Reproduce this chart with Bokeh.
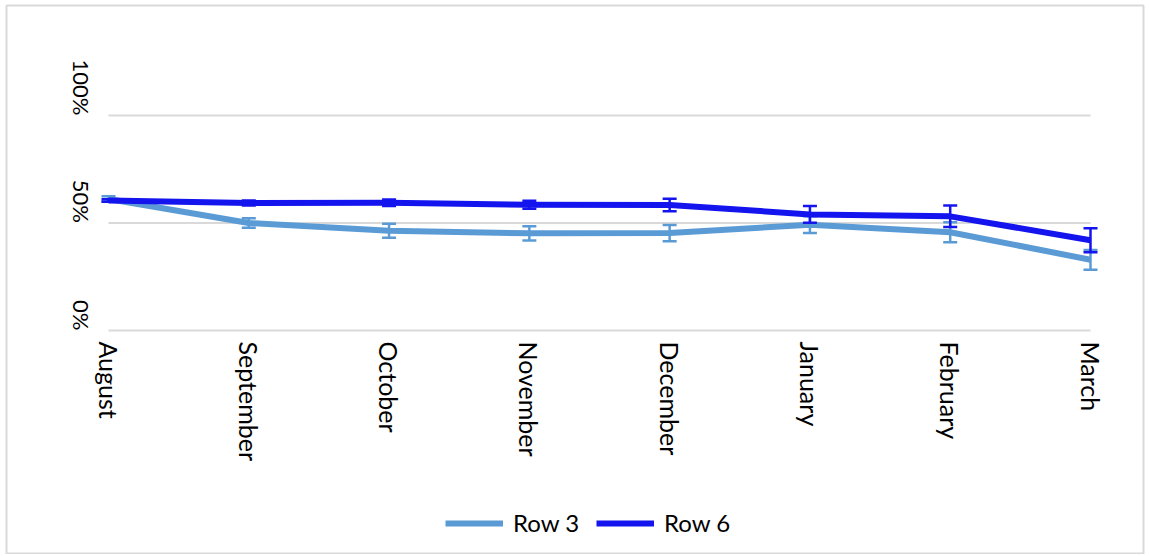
import math
from bokeh.plotting import figure
from bokeh.models import ColumnDataSource, Range1d, Label, Legend, LegendItem, FixedTicker
from bokeh.embed import file_html
from bokeh.resources import INLINE

months = ["August", "September", "October", "November", "December", "January", "February", "March"]
row3 = [0.612, 0.500, 0.464, 0.452, 0.453, 0.492, 0.457, 0.329]
row3_err = [0.012, 0.022, 0.033, 0.033, 0.038, 0.039, 0.046, 0.046]
row6 = [0.605, 0.593, 0.594, 0.585, 0.584, 0.540, 0.531, 0.420]
row6_err = [0.006, 0.012, 0.015, 0.019, 0.029, 0.039, 0.050, 0.056]
y_ticks = [0.0, 0.5, 1.0]
y_tick_labels = ["0%", "50%", "100%"]

C3 = "#5B9BD5"
C6 = "#1414EE"
FONT = "Lato"

W, H = 1147, 554
# chart-area border (frame) in page pixels
FL, FT, FR, FB = 6, 5, 1143, 554
# page pixel positions of the first/last category and of 0% / 100%
PX_FIRST, PX_LAST = 108, 1090
PY_ZERO, PY_FULL = 330, 115

n = len(months)
ux = (PX_LAST - PX_FIRST) / (n - 1)
x0 = -(PX_FIRST - FL) / ux
x1 = (n - 1) + (FR - PX_LAST) / ux
uy = (PY_ZERO - PY_FULL) / (y_ticks[-1] - y_ticks[0])
y1 = y_ticks[-1] + (PY_FULL - FT) / uy
y0 = y_ticks[0] - (FB - PY_ZERO) / uy

xs = list(range(n))
s3 = ColumnDataSource(dict(x=xs, y=row3, lo=[v - e for v, e in zip(row3, row3_err)], hi=[v + e for v, e in zip(row3, row3_err)]))
s6 = ColumnDataSource(dict(x=xs, y=row6, lo=[v - e for v, e in zip(row6, row6_err)], hi=[v + e for v, e in zip(row6, row6_err)]))

p = figure(width=W, height=H, output_backend="svg", toolbar_location=None,
           x_range=Range1d(x0, x1), y_range=Range1d(y0, y1),
           min_border_left=FL, min_border_top=FT, min_border_right=W - FR, min_border_bottom=H - FB)
p.outline_line_color = "#d9d9d9"
p.outline_line_width = 2

p.yaxis.visible = False
p.xgrid.visible = False
p.ygrid.visible = False

ax = p.xaxis[0]
ax.fixed_location = 0
ax.ticker = FixedTicker(ticks=xs)
ax.major_label_overrides = {i: m for i, m in enumerate(months)}
ax.major_label_orientation = -math.pi / 2
ax.major_label_standoff = 5
ax.major_tick_line_color = None
ax.minor_tick_line_color = None
ax.axis_line_color = None
ax.major_label_text_font = FONT
ax.major_label_text_font_size = "25px"
ax.major_label_text_color = "#000000"

# gridlines
gs = ColumnDataSource(dict(x0=[xs[0]] * len(y_ticks), x1=[xs[-1]] * len(y_ticks), y=y_ticks))
p.segment(x0="x0", y0="y", x1="x1", y1="y", source=gs, line_color="#d9d9d9", line_width=2)

for t, lab in zip(y_ticks, y_tick_labels):
    p.add_layout(Label(x=xs[0], y=t, x_offset=-27, text=lab, angle=-math.pi / 2,
                       text_align="right", text_baseline="middle",
                       text_font=FONT, text_font_size="22px", text_color="#000000"))

r3 = p.line("x", "y", source=s3, line_color=C3, line_width=6, line_join="round")
p.segment(x0="x", y0="lo", x1="x", y1="hi", source=s3, line_color=C3, line_width=2.5)
p.scatter("x", "lo", source=s3, marker="dash", size=14, line_color=C3, line_width=2.5)
p.scatter("x", "hi", source=s3, marker="dash", size=14, line_color=C3, line_width=2.5)

r6 = p.line("x", "y", source=s6, line_color=C6, line_width=6, line_join="round")
p.segment(x0="x", y0="lo", x1="x", y1="hi", source=s6, line_color=C6, line_width=2.5)
p.scatter("x", "lo", source=s6, marker="dash", size=14, line_color=C6, line_width=2.5)
p.scatter("x", "hi", source=s6, marker="dash", size=14, line_color=C6, line_width=2.5)

# legend position: left edge at page x 445, bottom at page y 537 (relative to frame bottom-left)
legend = Legend(items=[LegendItem(label="Row 3", renderers=[r3]), LegendItem(label="Row 6", renderers=[r6])],
                orientation="horizontal", location=(445 - FL, FB - 537),
                glyph_width=58, glyph_height=20, label_standoff=10, spacing=17,
                padding=0, margin=0, border_line_color=None, background_fill_alpha=0,
                label_text_font=FONT, label_text_font_size="24px", label_text_color="#000000")
p.add_layout(legend, "center")

open("out.html", "w").write(file_html(p, INLINE))
